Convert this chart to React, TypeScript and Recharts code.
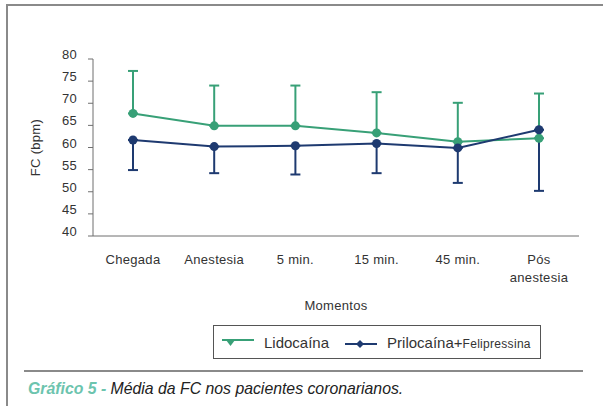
import { ErrorBar, Label, Legend, Line, LineChart, XAxis, YAxis } from "recharts";

const categories = ["Chegada", "Anestesia", "5 min.", "15 min.", "45 min.", "Pós\nanestesia"];
const lidocaina = [67.7, 64.9, 64.9, 63.3, 61.3, 62.1];
const lidocainaTop = [77.3, 74.0, 74.0, 72.5, 70.1, 72.2];
const prilocaina = [61.7, 60.2, 60.4, 60.9, 59.9, 64.0];
const prilocainaBottom = [54.9, 54.2, 53.9, 54.2, 52.0, 50.2];
const yTicks = [40, 45, 50, 55, 60, 65, 70, 75, 80];

const GREEN = "#38a077";
const NAVY = "#1e3a70";
const AXIS = "#6f6f6f";
const TEXT = "#333333";
const FONT = "'Liberation Sans', Arial, sans-serif";

const data = categories.map((name, i) => ({
  name,
  lido: lidocaina[i],
  lidoErr: [0, lidocainaTop[i] - lidocaina[i]],
  prilo: prilocaina[i],
  priloErr: [prilocaina[i] - prilocainaBottom[i], 0],
}));

function XTick({ x, y, payload }: any) {
  const lines = String(payload.value).split("\n");
  return (
    <text x={x} y={y} textAnchor="middle" fill={TEXT} fontSize={13} fontFamily={FONT} letterSpacing={0.3}>
      {lines.map((l, i) => (
        <tspan key={i} x={x} dy={i === 0 ? 28 : 18}>
          {l}
        </tspan>
      ))}
    </text>
  );
}

function YTick({ x, y, payload }: any) {
  return (
    <text x={x} y={y} textAnchor="end" fill={TEXT} fontSize={13} fontFamily={FONT} letterSpacing={0.3}>
      {payload.value}
    </text>
  );
}

function LegendBox() {
  return (
    <div
      style={{
        border: "1px solid #555",
        width: 328,
        height: 34,
        display: "flex",
        alignItems: "center",
        fontFamily: FONT,
        color: TEXT,
        boxSizing: "border-box",
        whiteSpace: "nowrap",
      }}
    >
      <svg width={44} height={20} style={{ marginLeft: 6 }}>
        <line x1={2} y1={8} x2={34} y2={8} stroke={GREEN} strokeWidth={2} />
        <path d="M6,8 L15,8 L10.5,14 Z" fill={GREEN} />
      </svg>
      <span style={{ fontSize: 15 }}>Lidocaína</span>
      <svg width={46} height={20} style={{ marginLeft: 12 }}>
        <line x1={4} y1={12} x2={36} y2={12} stroke={NAVY} strokeWidth={2} />
        <path d="M19,8 L23,12 L19,16 L15,12 Z" fill={NAVY} />
      </svg>
      <span style={{ fontSize: 15 }}>
        Prilocaína+<span style={{ fontSize: 12, letterSpacing: 0.3 }}>Felipressina</span>
      </span>
    </div>
  );
}

export default function App() {
  return (
    <div style={{ position: "absolute", left: 0, top: 0, width: 603, height: 406, background: "#fff", overflow: "hidden" }}>
      <div style={{ position: "absolute", left: 6, top: 4, width: 600, height: 410, borderLeft: "2px solid #8a8a8a", borderTop: "2px solid #8a8a8a" }} />
      <LineChart width={603} height={406} data={data} margin={{ top: 59, right: 24, left: 33, bottom: 90 }} style={{ position: "absolute", left: 0, top: 0 }}>
        <XAxis
          dataKey="name"
          height={80}
          stroke={AXIS}
          tickLine={false}
          tickSize={0}
          tickMargin={0}
          tick={<XTick />}
          interval={0}
          padding={{ left: 40, right: 40 }}
        >
          <Label
            content={({ viewBox }: any) => (
              <text x={viewBox.x + viewBox.width / 2} y={310} textAnchor="middle" fill={TEXT} fontSize={13} fontFamily={FONT} letterSpacing={0.3}>
                Momentos
              </text>
            )}
          />
        </XAxis>
        <YAxis
          width={60}
          domain={[40, 80]}
          ticks={yTicks}
          interval={0}
          stroke={AXIS}
          tickSize={5}
          tickMargin={11}
          tick={<YTick />}
        >
          <Label
            content={({ viewBox }: any) => {
              const cx = 40;
              const cy = viewBox.y + viewBox.height / 2;
              return (
                <text x={cx} y={cy} transform={`rotate(-90, ${cx}, ${cy})`} textAnchor="middle" fill={TEXT} fontSize={13} fontFamily={FONT} letterSpacing={0.3}>
                  FC (bpm)
                </text>
              );
            }}
          />
        </YAxis>
        <Legend
          layout="vertical"
          align="center"
          verticalAlign="middle"
          content={<LegendBox />}
          wrapperStyle={{ position: "absolute", left: 213, top: 325, width: 328, height: 35 }}
        />
        <Line
          type="linear"
          dataKey="lido"
          name="Lidocaína"
          stroke={GREEN}
          strokeWidth={2}
          dot={{ r: 4.5, fill: GREEN, stroke: GREEN, strokeWidth: 0 }}
          isAnimationActive={false}
        >
          <ErrorBar dataKey="lidoErr" direction="y" width={5} stroke={GREEN} strokeWidth={2} />
        </Line>
        <Line
          type="linear"
          dataKey="prilo"
          name="Prilocaína+Felipressina"
          stroke={NAVY}
          strokeWidth={2}
          dot={{ r: 4.5, fill: NAVY, stroke: NAVY, strokeWidth: 0 }}
          isAnimationActive={false}
        >
          <ErrorBar dataKey="priloErr" direction="y" width={5} stroke={NAVY} strokeWidth={2} />
        </Line>
      </LineChart>
      <div style={{ position: "absolute", left: 24, top: 370, width: 559, height: 2, background: "#8a8a8a" }} />
      <div
        style={{
          position: "absolute",
          left: 28,
          top: 379,
          fontFamily: FONT,
          fontSize: 17,
          fontStyle: "italic",
          color: "#222",
          whiteSpace: "nowrap",
          transform: "scaleX(0.93)",
          transformOrigin: "left top",
        }}
      >
        <span style={{ color: "#6cc4ae", fontWeight: "bold" }}>Gráfico 5 - </span>
        Média da FC nos pacientes coronarianos.
      </div>
    </div>
  );
}
